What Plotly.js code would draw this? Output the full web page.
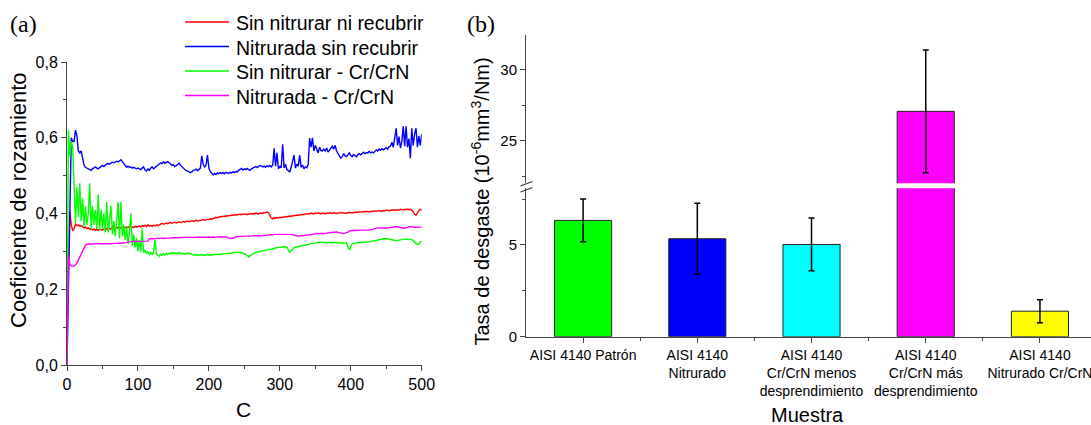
<!DOCTYPE html>
<html>
<head>
<meta charset="utf-8">
<script src="https://cdn.plot.ly/plotly-3.0.1.min.js"></script>
<style>html,body{margin:0;padding:0;background:#fff}#chart{width:1091px;height:425px}</style>
</head>
<body>
<div id="chart"></div>
<script>
// ---------- Panel (a): coeficiente de rozamiento vs ciclos ----------
const ciclos = [
0,2,4,6,8,10,12,14,16,18,
20,22,24,26,28,30,32,34,36,38,
40,42,44,46,48,50,52,54,56,58,
60,62,64,66,68,70,72,74,76,78,
80,82,84,86,88,90,92,94,96,98,
100,102,104,106,108,110,112,114,116,118,
120,122,124,126,128,130,132,134,136,138,
140,142,144,146,148,150,152,154,156,158,
160,162,164,166,168,170,172,174,176,178,
180,182,184,186,188,190,192,194,196,198,
200,202,204,206,208,210,212,214,216,218,
220,222,224,226,228,230,232,234,236,238,
240,242,244,246,248,250,252,254,256,258,
260,262,264,266,268,270,272,274,276,278,
280,282,284,286,288,290,292,294,296,298,
300,302,304,306,308,310,312,314,316,318,
320,322,324,326,328,330,332,334,336,338,
340,342,344,346,348,350,352,354,356,358,
360,362,364,366,368,370,372,374,376,378,
380,382,384,386,388,390,392,394,396,398,
400,402,404,406,408,410,412,414,416,418,
420,422,424,426,428,430,432,434,436,438,
440,442,444,446,448,450,452,454,456,458,
460,462,464,466,468,470,472,474,476,478,
480,482,484,486,488,490,492,494,496,498,
500];

const sinNitrurarNiRecubrir = [
0.10,0.30,0.405,0.37,0.355,0.36,0.372,0.368,0.37,0.366,
0.368,0.365,0.362,0.364,0.36,0.362,0.358,0.36,0.357,0.359,
0.356,0.358,0.355,0.357,0.358,0.356,0.359,0.357,0.36,0.358,
0.361,0.359,0.362,0.36,0.363,0.361,0.364,0.36,0.363,0.361,
0.364,0.362,0.365,0.363,0.366,0.362,0.365,0.363,0.366,0.364,
0.365,0.367,0.364,0.368,0.366,0.369,0.365,0.37,0.367,0.368,
0.366,0.369,0.367,0.37,0.368,0.371,0.372,0.374,0.372,0.373,
0.375,0.373,0.374,0.376,0.374,0.375,0.377,0.375,0.376,0.378,
0.376,0.377,0.379,0.377,0.378,0.38,0.378,0.379,0.381,0.379,
0.38,0.382,0.38,0.381,0.383,0.382,0.384,0.382,0.384,0.385,
0.384,0.386,0.385,0.387,0.388,0.39,0.389,0.391,0.392,0.391,
0.393,0.392,0.394,0.393,0.395,0.394,0.396,0.395,0.397,0.396,
0.397,0.396,0.398,0.397,0.399,0.398,0.399,0.397,0.399,0.4,
0.398,0.4,0.399,0.401,0.4,0.399,0.401,0.4,0.402,0.401,
0.403,0.404,0.402,0.395,0.388,0.386,0.389,0.387,0.39,0.388,
0.39,0.389,0.391,0.39,0.392,0.391,0.393,0.392,0.394,0.393,
0.395,0.394,0.396,0.395,0.397,0.396,0.398,0.397,0.399,0.398,
0.4,0.399,0.401,0.4,0.399,0.401,0.4,0.402,0.4,0.399,
0.401,0.4,0.399,0.401,0.4,0.402,0.401,0.4,0.402,0.401,
0.4,0.402,0.401,0.403,0.401,0.402,0.4,0.402,0.401,0.403,
0.402,0.401,0.403,0.402,0.404,0.403,0.405,0.404,0.403,0.405,
0.404,0.406,0.405,0.404,0.406,0.405,0.407,0.406,0.407,0.406,
0.408,0.407,0.406,0.408,0.407,0.409,0.408,0.407,0.409,0.408,
0.41,0.409,0.408,0.41,0.409,0.411,0.41,0.409,0.411,0.41,
0.412,0.41,0.411,0.409,0.404,0.398,0.396,0.403,0.408,0.411,
0.41];

const nitruradaSinRecubrir = [
0,0.2,0.5,0.6,0.59,0.59,0.62,0.605,0.565,0.56,
0.565,0.545,0.528,0.522,0.52,0.518,0.516,0.514,0.518,0.521,
0.523,0.52,0.518,0.521,0.524,0.527,0.524,0.528,0.531,0.532,
0.53,0.533,0.535,0.534,0.537,0.538,0.536,0.54,0.542,0.537,
0.532,0.524,0.522,0.525,0.522,0.523,0.52,0.522,0.519,0.518,
0.52,0.517,0.516,0.52,0.523,0.515,0.512,0.518,0.514,0.52,
0.523,0.518,0.521,0.525,0.529,0.531,0.534,0.532,0.536,0.533,
0.535,0.537,0.534,0.53,0.527,0.529,0.524,0.526,0.53,0.533,
0.527,0.523,0.519,0.516,0.513,0.512,0.509,0.508,0.51,0.514,
0.515,0.517,0.513,0.518,0.52,0.552,0.53,0.522,0.528,0.554,
0.52,0.511,0.505,0.502,0.506,0.503,0.507,0.505,0.508,0.506,
0.508,0.505,0.509,0.507,0.506,0.509,0.507,0.51,0.508,0.511,
0.51,0.514,0.517,0.519,0.515,0.518,0.516,0.519,0.516,0.514,
0.518,0.52,0.522,0.524,0.521,0.525,0.527,0.526,0.523,0.525,
0.522,0.526,0.524,0.527,0.523,0.528,0.572,0.525,0.56,0.518,
0.524,0.521,0.583,0.52,0.53,0.516,0.514,0.51,0.522,0.537,
0.554,0.52,0.53,0.525,0.554,0.522,0.528,0.518,0.523,0.521,
0.53,0.599,0.575,0.6,0.565,0.58,0.568,0.56,0.575,0.566,
0.565,0.57,0.565,0.573,0.562,0.567,0.575,0.578,0.57,0.58,
0.565,0.56,0.552,0.546,0.55,0.558,0.552,0.55,0.555,0.56,
0.553,0.55,0.556,0.553,0.55,0.555,0.558,0.555,0.558,0.562,
0.558,0.561,0.56,0.564,0.56,0.562,0.56,0.565,0.568,0.565,
0.57,0.567,0.571,0.568,0.572,0.574,0.57,0.576,0.578,0.588,
0.575,0.6,0.625,0.58,0.603,0.573,0.59,0.63,0.578,0.63,
0.575,0.598,0.546,0.625,0.58,0.61,0.625,0.575,0.605,0.58,
0.61];

const sinNitrurarCrCrN = [
0,0.62,0.55,0.59,0.575,0.49,0.375,0.47,0.39,0.48,
0.38,0.44,0.365,0.42,0.37,0.40,0.48,0.36,0.42,0.37,
0.41,0.36,0.45,0.355,0.41,0.36,0.40,0.35,0.43,0.35,
0.39,0.42,0.345,0.38,0.34,0.39,0.43,0.335,0.43,0.34,
0.37,0.33,0.365,0.32,0.35,0.40,0.315,0.345,0.31,0.335,
0.30,0.33,0.298,0.36,0.296,0.302,0.295,0.299,0.292,0.297,
0.291,0.296,0.33,0.293,0.29,0.287,0.292,0.289,0.294,0.29,
0.295,0.292,0.296,0.293,0.297,0.294,0.296,0.293,0.297,0.294,
0.296,0.293,0.295,0.292,0.294,0.296,0.293,0.295,0.292,0.29,
0.29,0.292,0.289,0.291,0.29,0.292,0.289,0.291,0.29,0.292,
0.29,0.291,0.29,0.292,0.291,0.293,0.292,0.291,0.293,0.292,
0.294,0.293,0.294,0.295,0.294,0.296,0.295,0.297,0.296,0.297,
0.297,0.298,0.296,0.297,0.295,0.294,0.292,0.289,0.285,0.288,
0.291,0.294,0.296,0.297,0.298,0.299,0.3,0.301,0.302,0.303,
0.304,0.304,0.305,0.306,0.305,0.307,0.308,0.309,0.31,0.31,
0.311,0.311,0.312,0.311,0.312,0.311,0.304,0.298,0.302,0.306,
0.309,0.311,0.312,0.313,0.314,0.315,0.316,0.317,0.318,0.318,
0.319,0.32,0.32,0.321,0.321,0.322,0.323,0.323,0.324,0.325,
0.324,0.323,0.324,0.322,0.323,0.324,0.322,0.323,0.324,0.323,
0.324,0.322,0.323,0.324,0.323,0.322,0.323,0.322,0.312,0.304,
0.313,0.32,0.321,0.322,0.322,0.323,0.323,0.324,0.323,0.324,
0.325,0.324,0.325,0.325,0.326,0.327,0.327,0.328,0.329,0.33,
0.331,0.332,0.333,0.333,0.334,0.334,0.333,0.332,0.331,0.33,
0.329,0.328,0.328,0.329,0.33,0.331,0.332,0.333,0.332,0.333,
0.332,0.332,0.331,0.331,0.328,0.323,0.32,0.319,0.32,0.324,
0.328];

const nitruradaCrCrN = [
0,0.29,0.268,0.262,0.26,0.261,0.264,0.269,0.277,0.287,
0.296,0.304,0.311,0.316,0.319,0.32,0.321,0.32,0.319,0.32,
0.32,0.321,0.32,0.319,0.32,0.32,0.321,0.32,0.32,0.321,
0.32,0.32,0.321,0.32,0.321,0.321,0.32,0.321,0.322,0.321,
0.322,0.323,0.324,0.325,0.326,0.326,0.326,0.327,0.326,0.326,
0.327,0.326,0.327,0.327,0.326,0.327,0.327,0.327,0.333,0.334,
0.334,0.333,0.334,0.334,0.335,0.334,0.335,0.335,0.334,0.335,
0.336,0.335,0.335,0.336,0.335,0.336,0.336,0.335,0.336,0.337,
0.336,0.336,0.337,0.336,0.337,0.337,0.336,0.337,0.337,0.336,
0.337,0.337,0.338,0.337,0.338,0.337,0.338,0.338,0.337,0.338,
0.338,0.337,0.338,0.338,0.337,0.338,0.338,0.339,0.338,0.338,
0.339,0.338,0.338,0.337,0.335,0.334,0.334,0.336,0.338,0.338,
0.339,0.339,0.34,0.339,0.34,0.341,0.34,0.341,0.341,0.34,
0.341,0.341,0.342,0.341,0.341,0.342,0.341,0.341,0.342,0.342,
0.343,0.342,0.343,0.344,0.343,0.344,0.345,0.344,0.345,0.345,
0.344,0.345,0.345,0.344,0.345,0.345,0.346,0.345,0.345,0.344,
0.342,0.341,0.341,0.34,0.341,0.341,0.342,0.342,0.343,0.343,
0.343,0.343,0.344,0.345,0.346,0.347,0.347,0.348,0.347,0.348,
0.348,0.347,0.348,0.348,0.349,0.349,0.35,0.35,0.351,0.35,
0.351,0.35,0.349,0.348,0.348,0.347,0.348,0.349,0.351,0.354,
0.355,0.356,0.355,0.355,0.356,0.355,0.356,0.356,0.355,0.356,
0.356,0.357,0.356,0.356,0.357,0.358,0.36,0.362,0.363,0.362,
0.362,0.361,0.361,0.362,0.361,0.361,0.362,0.363,0.364,0.364,
0.365,0.365,0.365,0.364,0.363,0.363,0.362,0.361,0.361,0.362,
0.364,0.365,0.366,0.365,0.364,0.364,0.363,0.364,0.364,0.365,
0.364];

const nombresSeries = ['Sin nitrurar ni recubrir', 'Nitrurada sin recubrir', 'Sin nitrurar - Cr/CrN', 'Nitrurada - Cr/CrN'];
const coloresSeries = ['#ff0000', '#0000ff', '#00ff00', '#ff00ff'];
const ticksY1 = [0, 0.2, 0.4, 0.6, 0.8];
const ticksX1 = [0, 100, 200, 300, 400, 500];

// ---------- Panel (b): tasa de desgaste por muestra ----------
const muestras = ['AISI 4140 Patrón', 'AISI 4140<br>Nitrurado', 'AISI 4140<br>Cr/CrN menos<br>desprendimiento', 'AISI 4140<br>Cr/CrN más<br>desprendimiento', 'AISI 4140<br>Nitrurado Cr/CrN'];
const tasaDesgaste = [6.34, 5.34, 5.03, 27.08, 1.39];
const errorDesgaste = [1.17, 1.93, 1.44, 4.33, 0.63];
const coloresBarras = ['#00ff00', '#0000ff', '#00ffff', '#ff00ff', '#ffff00'];

// ---------- layout helpers (pixel -> paper) ----------
const W = 1091, H = 425;
const fx = p => p / W;
const fy = p => 1 - p / H;

const serieDatos = [sinNitrurarNiRecubrir, nitruradaSinRecubrir, sinNitrurarCrCrN, nitruradaCrCrN];
const traces = serieDatos.map((vals, i) => ({
  type: 'scatter', mode: 'lines', x: ciclos, y: vals,
  name: nombresSeries[i], line: {color: coloresSeries[i], width: 1.4},
  xaxis: 'x', yaxis: 'y', hoverinfo: 'skip', showlegend: false
}));

const posBarras = muestras.map((_, i) => i);
['y2', 'y3'].forEach(ax => {
  traces.push({
    type: 'bar', x: posBarras, y: tasaDesgaste, width: 0.5,
    marker: {color: coloresBarras, line: {color: '#222', width: 1}},
    error_y: {type: 'data', array: errorDesgaste, visible: true, color: '#000', thickness: 1.5, width: 3},
    xaxis: 'x2', yaxis: ax, showlegend: false, hoverinfo: 'skip'
  });
});

// legend drawn as line samples + text labels
const legendRows = [22, 46.5, 71, 95.5];
const legendShapes = nombresSeries.map((n, i) => ({
  type: 'line', xref: 'paper', yref: 'paper',
  x0: fx(185), x1: fx(229), y0: fy(legendRows[i]), y1: fy(legendRows[i]),
  line: {color: coloresSeries[i], width: 1.4}
}));
const legendTexts = nombresSeries.map((n, i) => ({
  text: n, xref: 'paper', yref: 'paper', x: fx(234), y: fy(legendRows[i] + 1),
  xanchor: 'left', yanchor: 'middle', showarrow: false, font: {size: 19.5}
}));

const eje = {
  showline: true, linecolor: '#444', linewidth: 1,
  ticks: 'outside', ticklen: 5, tickwidth: 1, tickcolor: '#444',
  showgrid: false, zeroline: false, fixedrange: true,
  tickfont: {size: 16, color: '#000'}
};
const minorEje = {ticks: 'outside', ticklen: 3, tickwidth: 1, tickcolor: '#444', showgrid: false};

const layout = {
  width: W, height: H,
  margin: {l: 0, r: 0, t: 0, b: 0},
  paper_bgcolor: '#fff', plot_bgcolor: 'rgba(0,0,0,0)',
  separators: ',.',
  font: {family: 'Liberation Sans, Arial, sans-serif', color: '#000'},
  showlegend: false,
  xaxis: Object.assign({}, eje, {
    domain: [fx(67), fx(421.7)], range: [0, 500], anchor: 'y',
    tickmode: 'array', tickvals: ticksX1,
    minor: Object.assign({}, minorEje, {dtick: 50})
  }),
  yaxis: Object.assign({}, eje, {
    domain: [fy(365), fy(62)], range: [0, 0.8], anchor: 'x',
    tickmode: 'array', tickvals: ticksY1, tickformat: '.1f',
    minor: Object.assign({}, minorEje, {dtick: 0.1})
  }),
  xaxis2: Object.assign({}, eje, {
    domain: [fx(526), 1], range: [-0.5, 4.447], anchor: 'y2',
    tickmode: 'array', tickvals: posBarras, ticktext: muestras,
    ticklabeloverflow: 'allow',
    tickfont: {size: 14, color: '#000'},
    minor: Object.assign({}, minorEje, {tickmode: 'array', tickvals: [0.5, 1.5, 2.5, 3.5]})
  }),
  yaxis2: Object.assign({}, eje, {
    domain: [fy(336.7), fy(188.3)], range: [0, 8.09], anchor: 'x2',
    dtick: 5, tick0: 0, tickfont: {size: 15, color: '#000'},
    minor: Object.assign({}, minorEje, {dtick: 2.5})
  }),
  yaxis3: Object.assign({}, eje, {
    domain: [fy(183.3), fy(35)], range: [22, 32.47], anchor: 'x2',
    dtick: 5, tick0: 0, tickfont: {size: 15, color: '#000'},
    minor: Object.assign({}, minorEje, {dtick: 2.5, tick0: 0})
  }),
  shapes: [
    {type: 'line', xref: 'paper', yref: 'paper', x0: fx(520.5), y0: fy(186), x1: fx(532.5), y1: fy(181.5), line: {color: '#333', width: 1.2}},
    {type: 'line', xref: 'paper', yref: 'paper', x0: fx(520.5), y0: fy(192), x1: fx(532.5), y1: fy(187.5), line: {color: '#333', width: 1.2}}
  ].concat(legendShapes),
  annotations: [
    {text: '(a)', xref: 'paper', yref: 'paper', x: fx(8), y: fy(24), xanchor: 'left', yanchor: 'middle', showarrow: false,
     font: {family: 'Liberation Serif, Times New Roman, serif', size: 24}},
    {text: '(b)', xref: 'paper', yref: 'paper', x: fx(465), y: fy(24), xanchor: 'left', yanchor: 'middle', showarrow: false,
     font: {family: 'Liberation Serif, Times New Roman, serif', size: 24}},
    {text: 'Coeficiente de rozamiento', xref: 'paper', yref: 'paper', x: fx(18.5), y: fy(200.5), textangle: -90,
     xanchor: 'center', yanchor: 'middle', showarrow: false, font: {size: 22}},
    {text: 'C', xref: 'paper', yref: 'paper', x: fx(243), y: fy(409), xanchor: 'center', yanchor: 'middle', showarrow: false, font: {size: 21}},
    {text: 'Tasa de desgaste (10<sup>-6</sup>mm<sup>3</sup>/Nm)', xref: 'paper', yref: 'paper', x: fx(480), y: fy(201.5), textangle: -90,
     xanchor: 'center', yanchor: 'middle', showarrow: false, font: {size: 20}},
    {text: 'Muestra', xref: 'paper', yref: 'paper', x: fx(807.5), y: fy(415), xanchor: 'center', yanchor: 'middle', showarrow: false, font: {size: 20}}
  ].concat(legendTexts)
};

Plotly.newPlot('chart', traces, layout, {staticPlot: true, displayModeBar: false});
</script>
</body>
</html>
